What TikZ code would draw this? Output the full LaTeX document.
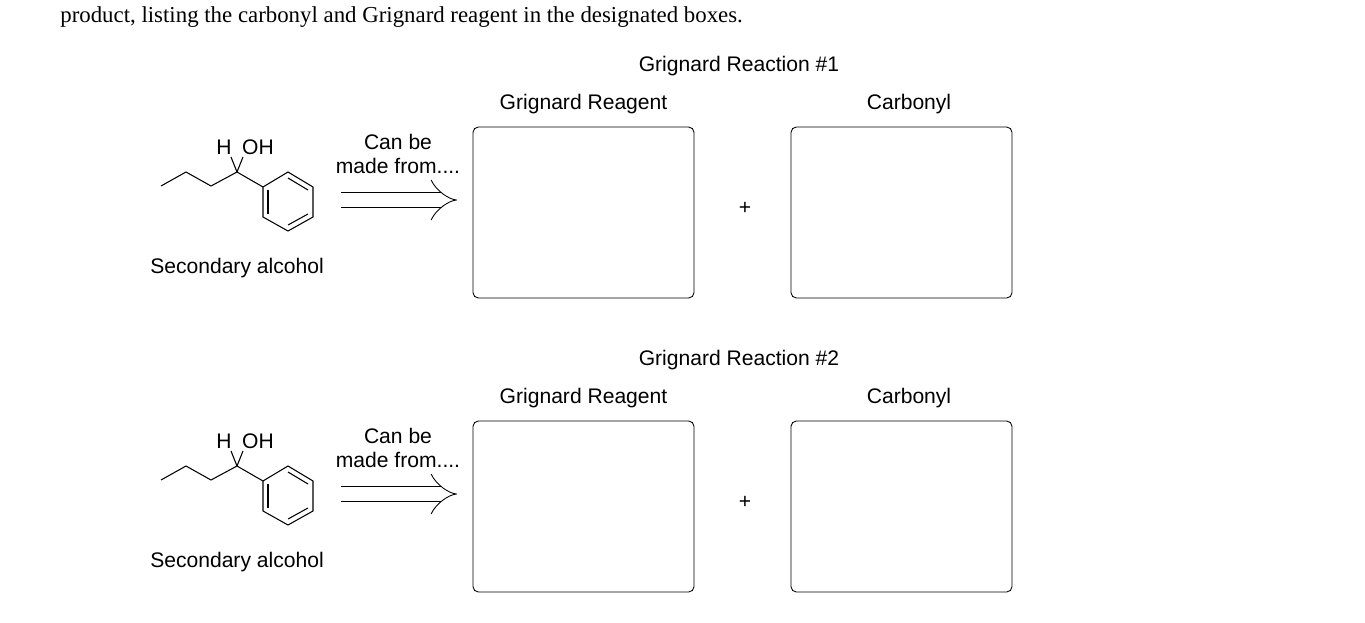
\documentclass[tikz,border=0pt]{standalone}
\usepackage{fontspec}
\setmainfont{Liberation Sans}
\newfontfamily\serifface{Liberation Serif}
\usetikzlibrary{arrows, positioning}
\tikzset{
    boxnode/.style = {draw, rectangle, rounded corners=0.3em, minimum width=4.42cm, minimum height=3.42cm, line width=0.5pt},
    textnode/.style = {draw=none, fill=none, inner sep=0em, font=\fontsize{12}{14}\selectfont},
    bond/.style = {line width=0.6pt},
    makes/.style = {double, double distance=0.28cm, line width=0.5pt, -implies}
}
\begin{document}
\begin{tikzpicture}[x=0.02cm, y=-0.02cm]
    \useasboundingbox (0,0) rectangle (1365,622);
    \node [textnode, anchor=west, font=\serifface\fontsize{13}{15}\selectfont, name=intro] at (60,17) {product, listing the carbonyl and Grignard reagent in the designated boxes.};
    \foreach \row/\dy in {1/0, 2/294} {
        \begin{scope}[yshift=-\dy*0.02cm]
        % molecule
        \coordinate (c\row) at (237,172);
        \draw [bond] (161,186) -- (186,172) -- (211,186) -- (c\row) -- (263,187);
        \draw [bond] (c\row) -- (231,157);
        \draw [bond] (c\row) -- (243,157);
        \node [textnode, name=h\row] at (224,147) {H};
        \node [textnode, name=oh\row] at (258,147) {OH};
        \draw [bond] (263,187) -- (288,172) -- (313,187) -- (313,217) -- (288,231) -- (263,217) -- cycle;
        \draw [bond] (268,190) -- (268,214);
        \draw [bond] (288,178) -- (308,190);
        \draw [bond] (308,214) -- (288,225);
        \node [textnode, name=alc\row] at (237,268) {Secondary alcohol};
        % arrow
        \node [textnode, align=center, name=can\row] at (398,154) {Can be\\made from....};
        \coordinate (a\row) at (341,200);
        \coordinate (b\row) at (457,200);
        \draw [makes] (a\row) -- (b\row);
        % boxes
        \node [boxnode, name=reagent\row] at (583.5,212.5) {};
        \node [boxnode, name=carbonyl\row] at (901.5,212.5) {};
        \node [textnode, above=0.24cm of reagent\row] {Grignard Reagent};
        \node [textnode, name=cl\row, above=0.24cm of carbonyl\row, xshift=0.15cm] {Carbonyl};
        \node [textnode, name=plus\row] at (745,208) {+};
        \node [textnode, name=title\row] at (739,66) {Grignard Reaction \#\row};
        \end{scope}
    }
\end{tikzpicture}
\end{document}
